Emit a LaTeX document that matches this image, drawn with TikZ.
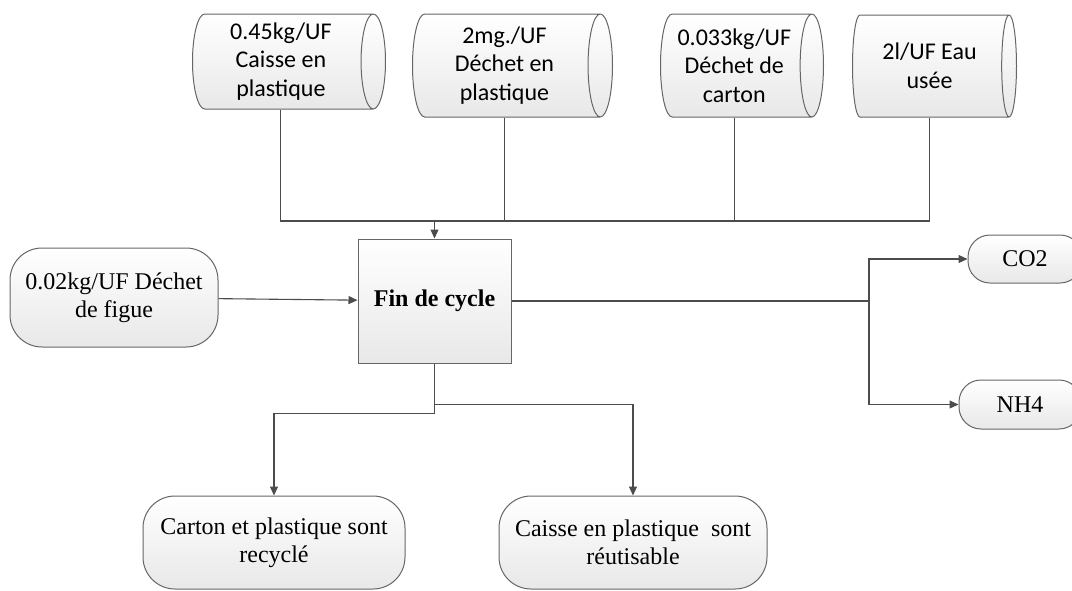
\documentclass[tikz,border=0pt]{standalone}
\usepackage{fontspec}
\setmainfont{Liberation Serif}
\newfontfamily\calibfont{Carlito}
\usetikzlibrary{arrows.meta,shapes,positioning,calc}

\begin{document}
\begin{tikzpicture}[x=1pt, y=-1pt,
    fl/.style={draw=black!70, line width=1.1pt},
    arr/.style={fl, -{Triangle[length=9pt,width=8pt]}},
    grad/.style={draw=black!60, line width=1pt, top color=white, bottom color=black!9},
    flux/.style={grad, cylinder, aspect=0.3, anchor=west, align=center, inner sep=2pt,
        font=\calibfont\fontsize{24}{28.5}\selectfont},
    term/.style={grad, rectangle, rounded corners=32pt, align=center, inner sep=2pt,
        font=\fontsize{24}{28}\selectfont}]
    \useasboundingbox (0,0) rectangle (1072,590);
    \clip (0,0) rectangle (1072,590);

    % entrees
    \node[flux, minimum height=193pt, minimum width=95pt] (caisse) at (192,61.5) {0.45kg/UF\\Caisse en\\plastique};
    \node[flux, minimum height=200pt, minimum width=103pt] (plast) at (412,65.5) {2mg./UF\\Déchet en\\plastique};
    \node[flux, minimum height=163pt, minimum width=103pt] (carton) at (660,65.5) {0.033kg/UF\\Déchet de\\carton};
    \node[flux, minimum height=164pt, minimum width=102pt] (eau) at (852,66) {2l/UF Eau\\usée};

    \node[grad, rectangle, minimum width=153pt, minimum height=124pt, font=\bfseries\fontsize{24}{28}\selectfont] (fin) at (434.5,301) {Fin de cycle};
    \node[term, minimum width=208pt, minimum height=99pt] (figue) at (114,297.5) {0.02kg/UF Déchet\\de figue};

    % sorties
    \node[term, rounded corners=22pt, minimum width=114pt, minimum height=48pt] (co2) at (1025,259) {CO2};
    \node[term, rounded corners=22pt, minimum width=122pt, minimum height=49pt] (nh4) at (1020,404.5) {NH4};
    \node[term, minimum width=262pt, minimum height=93pt] (recy) at (274,542.5) {Carton et plastique sont\\recyclé};
    \node[term, minimum width=268pt, minimum height=93pt] (reut) at (633,542.5) {Caisse en plastique\ \ sont\\réutisable};

    \coordinate (bus) at (fin.north |- 0,221);
    \coordinate (split) at (869,0 |- fin.east);

    \draw[fl] (caisse.south) |- (bus);
    \draw[fl] (plast.south) |- (bus);
    \draw[fl] (carton.south) |- (bus);
    \draw[fl] (eau.south) |- (bus);
    \draw[arr] (bus) -- (fin.north);
    \draw[arr] (figue) -- (fin);

    \draw[fl] (fin.east) -- (split);
    \draw[arr] (split) |- (co2.west);
    \draw[arr] (split) |- (nh4.west);

    \draw[arr] (fin.south) -- ++(0,50) -| (recy.north);
    \draw[arr] (fin.south) -- ++(0,41) -| (reut.north);
\end{tikzpicture}
\end{document}
